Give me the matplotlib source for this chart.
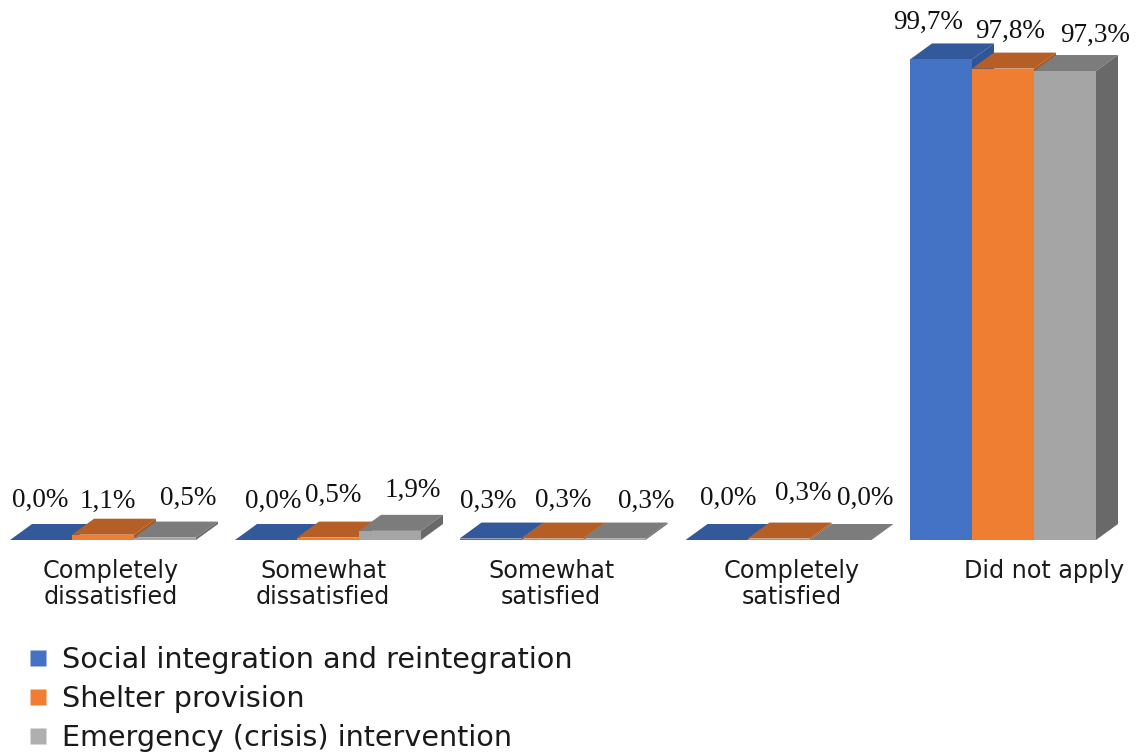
import matplotlib
matplotlib.use("Agg")
import matplotlib.pyplot as plt
from matplotlib.patches import Polygon
from matplotlib.lines import Line2D

categories = ["Completely\ndissatisfied", "Somewhat\ndissatisfied", "Somewhat\nsatisfied",
              "Completely\nsatisfied", "Did not apply"]
series_names = ["Social integration and reintegration", "Shelter provision", "Emergency (crisis) intervention"]
social = [0.0, 0.0, 0.3, 0.0, 99.7]
shelter = [1.1, 0.5, 0.3, 0.3, 97.8]
emergency = [0.5, 1.9, 0.3, 0.0, 97.3]
series = [social, shelter, emergency]
value_labels = [["0,0%", "0,0%", "0,3%", "0,0%", "99,7%"],
                ["1,1%", "0,5%", "0,3%", "0,3%", "97,8%"],
                ["0,5%", "1,9%", "0,3%", "0,0%", "97,3%"]]

W, H = 1138, 753
X0, STEP, Y0, PXY = 103.0, 225.0, 540.0, 4.82
front = ["#4472C4", "#F07E32", "#A5A5A5"]
top = ["#34599A", "#B55F26", "#7C7C7C"]
side = ["#2F5597", "#A9561F", "#696969"]
legend_col = ["#4472C4", "#F07E32", "#AFAFB1"]
serif = "Liberation Serif"
sans = "DejaVu Sans"

fig = plt.figure(figsize=(W / 100, H / 100), dpi=100)
ax = fig.add_axes([0, 0, 1, 1])
ax.set_xlim(-X0 / STEP, (W - X0) / STEP)
ax.set_ylim((Y0 - H) / PXY, Y0 / PXY)
ax.axis("off")

def dx(px):
    return (px - X0) / STEP

def dy(py):
    return (Y0 - py) / PXY

bw = 62.0 / STEP
depth_x = 22.0 / STEP
depth_y = 16.0 / PXY
group_shift = [0, 0, -0.5 / STEP, 0.5 / STEP, 0]

for s, vals in enumerate(series):
    for g, v in enumerate(vals):
        left = g + group_shift[g] + (s - 1.5) * bw
        right = left + bw
        zz = 2 + s * 3
        ax.add_patch(Polygon([(left, v), (right, v), (right + depth_x, v + depth_y), (left + depth_x, v + depth_y)],
                             closed=True, fc=top[s], ec="none", zorder=zz))
        ax.add_patch(Polygon([(right, 0), (right + depth_x, depth_y), (right + depth_x, v + depth_y), (right, v)],
                             closed=True, fc=side[s], ec="none", zorder=zz + 1))
        ax.bar(left, v, width=bw, align="edge", color=front[s], linewidth=0, zorder=zz + 2)

# label centres in reference pixels
label_px = [[(40, 500), (273, 501), (488, 501), (728, 498), (928, 22)],
            [(108, 501), (333, 495), (563, 500), (803, 493), (1010, 31)],
            [(188, 498), (413, 490), (646, 501), (865, 498), (1095, 35)]]
for s in range(3):
    for g in range(5):
        px, py = label_px[s][g]
        ax.text(dx(px), dy(py), value_labels[s][g], family=serif, fontsize=19.5, color="#111111",
                ha="center", va="center", zorder=20)

cat_px = [111, 323, 551, 792, 1044]
for g, c in enumerate(categories):
    ax.text(dx(cat_px[g]), dy(559), c, family=sans, fontsize=17.2, color="#1a1a1a",
            ha="center", va="top", linespacing=1.08, zorder=20)

handles = [Line2D([], [], marker="s", ls="none", ms=11.5, mfc=c, mec="none") for c in legend_col]
leg = ax.legend(handles, series_names, loc="upper left", bbox_to_anchor=(24 / W, 1 - 646 / H),
                bbox_transform=fig.transFigure, frameon=False, borderpad=0, borderaxespad=0,
                prop={"family": sans, "size": 20.6}, labelspacing=0.39, handlelength=1.0, handletextpad=0.33)
for t in leg.get_texts():
    t.set_color("#1a1a1a")

fig.savefig("out.png", dpi=100)
